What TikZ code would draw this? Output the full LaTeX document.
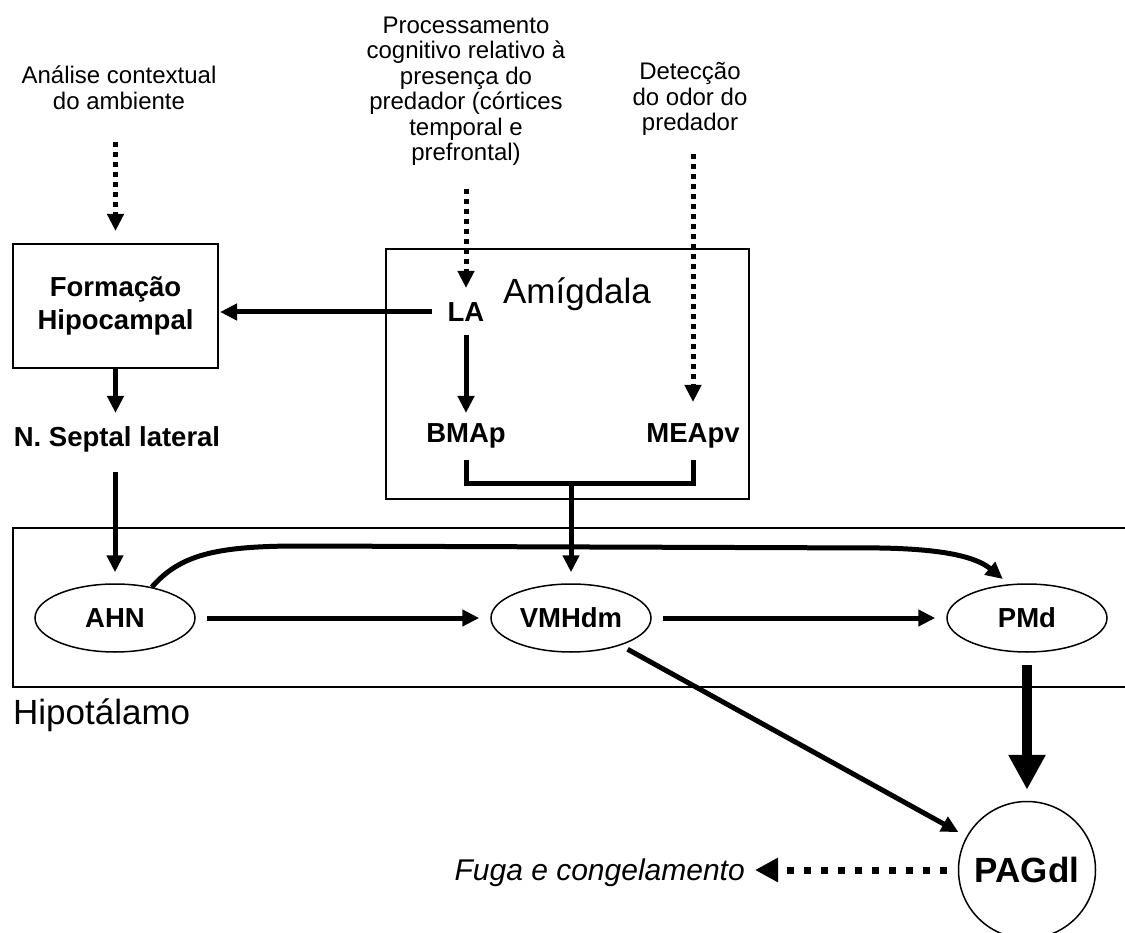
\documentclass[tikz,border=0pt]{standalone}
\usepackage{fontspec}
\setmainfont{Liberation Sans}
\usetikzlibrary{arrows.meta,shapes.geometric}

\begin{document}
\begin{tikzpicture}[x=1pt,y=-1pt]
		\tikzstyle {note} = [font=\fontsize{24}{25.5}\selectfont, align=center, inner sep=0pt]
		\tikzstyle {region label} = [font=\fontsize{35}{40}\selectfont, inner sep=0pt, text height=25pt, text depth=0pt]
		\tikzstyle {nucleus} = [font=\bfseries\fontsize{27.5}{33}\selectfont, inner sep=0pt, text height=19.7pt, text depth=0pt]
		\tikzstyle {nucleus oval} = [nucleus, ellipse, draw, line width=1.5pt, minimum width=160pt, minimum height=68pt]
		\tikzstyle {structure box} = [draw, line width=2pt, align=center, minimum width=205pt, minimum height=124pt, font=\bfseries\fontsize{27.5}{33}\selectfont]
		\tikzstyle {path line} = [line width=5pt, -{Triangle[length=17pt,width=16pt]}]
		\tikzstyle {input line} = [line width=5pt, dash pattern=on 5pt off 5pt, -{Triangle[length=17pt,width=16pt]}]
		\tikzstyle {output line} = [line width=7pt, dash pattern=on 7pt off 10pt, -{Triangle[length=23pt,width=23pt]}]

		\useasboundingbox (0,0) rectangle (1125,933);

		% regioes
		\draw[line width=1.3pt] (1125,528) -- (13,528) -- (13,687) -- (1125,687);
		\draw[line width=2pt] (386,249) rectangle (749,499);

		% textos de entrada
		\draw (119,88) node (context) [note] {Análise contextual\\do ambiente};
		\draw (466,91) node (cognition) [note] {Processamento\\cognitivo relativo à\\presença do\\predador (córtices\\temporal e\\prefrontal)};
		\draw (690,99) node (odor) [note] {Detecção\\do odor do\\predador};

		\draw (115.5,306) node (hippo) [structure box] {Formação\\Hipocampal};
		\draw (117,437) node (septal) [nucleus] {N. Septal lateral};
		\draw (577,291) node (amyg) [region label] {Amígdala};
		\draw (466,312) node (LA) [nucleus] {LA};
		\draw (466,433) node (BMAp) [nucleus] {BMAp};
		\draw (693,433) node (MEApv) [nucleus] {MEApv};
		\draw (13,712) node (hypo) [region label, anchor=west] {Hipotálamo};

		\draw (115,618) node (AHN) [nucleus oval] {AHN};
		\draw (571,618) node (VMH) [nucleus oval] {VMHdm};
		\draw (1027,618) node (PMd) [nucleus oval] {PMd};
		\draw (1027,870) node (PAG) [circle, draw, line width=1.5pt, minimum size=137pt, inner sep=0pt, font=\bfseries\fontsize{35}{40}\selectfont, text height=25pt, text depth=0pt] {PAGdl};
		\draw (745,870) node (escape) [anchor=east, inner sep=0pt, font=\itshape\fontsize{30}{36}\selectfont, text height=21.5pt, text depth=0pt] {Fuga e congelamento};

		% entradas pontilhadas
		\draw[input line, shorten <=32pt, shorten >=12pt] (hippo.north |- context.south) -- (hippo.north);
		\draw[input line, shorten <=23pt, shorten >=14pt] (LA.north |- cognition.south) -- (LA.north);
		\draw[input line, shorten <=18pt, shorten >=21pt] (MEApv.north |- odor.south) -- (MEApv.north);

		% vias
		\draw[path line, shorten <=15pt, shorten >=1pt] (LA.west) -- (LA.west -| hippo.east);
		\draw[path line, shorten <=13pt, shorten >=10pt] (LA.south) -- (LA.south |- BMAp.north);
		\draw[path line, shorten >=14pt] (hippo.south) -- (hippo.south |- septal.north);
		\draw[path line, shorten <=25pt, shorten >=11pt] (AHN.north |- septal.south) -- (AHN.north);

		\coordinate (amyg out) at (571,483);
		\draw[line width=5pt] ([yshift=-17pt]BMAp.south) -- (BMAp.south |- amyg out) -- (MEApv.south |- amyg out) -- ([yshift=-17pt]MEApv.south);
		\draw[path line, shorten >=11pt] (amyg out) -- (VMH.north);

		\draw[path line, shorten <=11pt, shorten >=11pt] (AHN) -- (VMH);
		\draw[path line, shorten <=11pt, shorten >=11pt] (VMH) -- (PMd);
		\draw[path line, shorten <=8pt, shorten >=9pt] (VMH) -- (PAG);
		\draw[path line, shorten >=8pt] (AHN.40) .. controls (180,555) and (215,546) .. (300,546) -- (880,548) .. controls (940,549) and (975,556) .. (PMd.118);

		\draw[line width=10pt, -{Triangle[length=35pt,width=35pt]}, shorten <=12pt, shorten >=11pt] (PMd) -- (PAG);
		\draw[output line, shorten <=11pt, shorten >=10pt] (PAG) -- (escape);

\end{tikzpicture}
\end{document}
